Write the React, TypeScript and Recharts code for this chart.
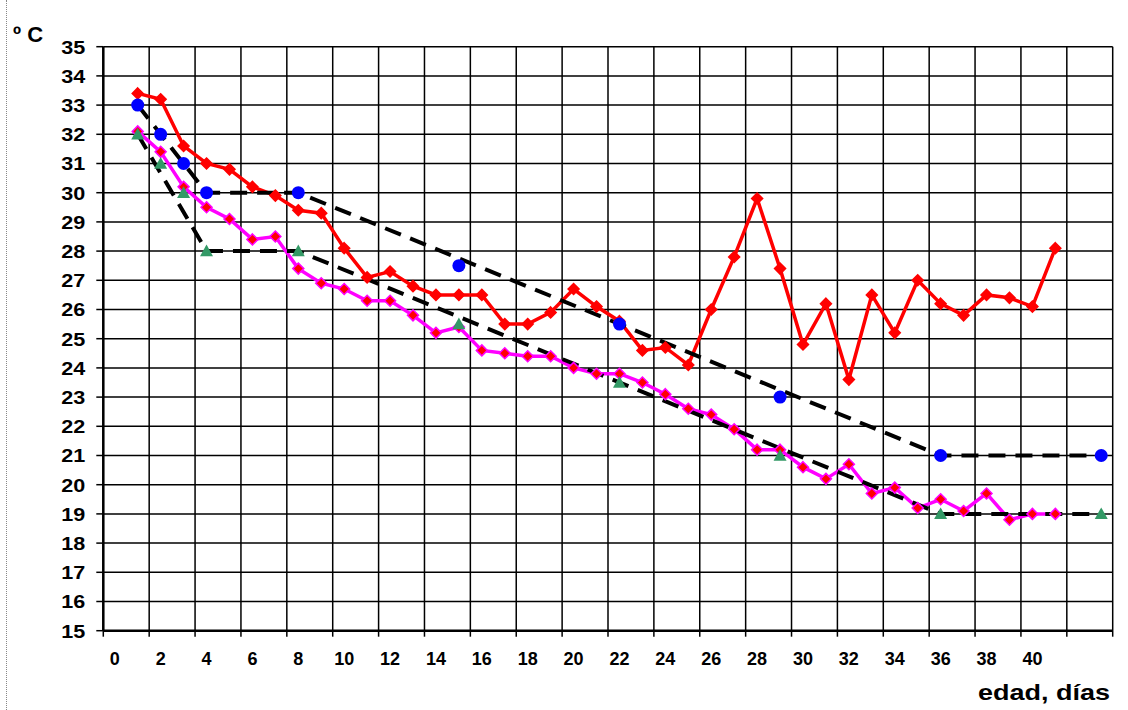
import React from "react";
import {
  ComposedChart,
  Line,
  XAxis,
  YAxis,
  CartesianGrid,
} from "recharts";

// categories: age in days
const days = [
  0, 1, 2, 3, 4, 5, 6, 7, 8, 9, 10, 11, 12, 13, 14, 15, 16, 17, 18, 19, 20, 21,
  22, 23, 24, 25, 26, 27, 28, 29, 30, 31, 32, 33, 34, 35, 36, 37, 38, 39, 40, 41,
  42, 43,
];

// measured temperatures, days 1..41
const redTemps = [
  33.4, 33.2, 31.6, 31.0, 30.8, 30.2, 29.9, 29.4, 29.3, 28.1, 27.1, 27.3, 26.8,
  26.5, 26.5, 26.5, 25.5, 25.5, 25.9, 26.7, 26.1, 25.6, 24.6, 24.7, 24.1, 26.0,
  27.8, 29.8, 27.4, 24.8, 26.2, 23.6, 26.5, 25.2, 27.0, 26.2, 25.8, 26.5, 26.4,
  26.1, 28.1,
];
const pinkTemps = [
  32.1, 31.4, 30.2, 29.5, 29.1, 28.4, 28.5, 27.4, 26.9, 26.7, 26.3, 26.3, 25.8,
  25.2, 25.4, 24.6, 24.5, 24.4, 24.4, 24.0, 23.8, 23.8, 23.5, 23.1, 22.6, 22.4,
  21.9, 21.2, 21.2, 20.6, 20.2, 20.7, 19.7, 19.9, 19.2, 19.5, 19.1, 19.7, 18.8,
  19.0, 19.0,
];

// recommended values
const refDays = [1, 2, 3, 4, 8, 15, 22, 29, 36, 43];
const blueTemps = [33, 32, 31, 30, 30, 27.5, 25.5, 23, 21, 21];
const greenTemps = [32, 31, 30, 28, 28, 25.5, 23.5, 21, 19, 19];

// dashed guide lines
const trendDays = [1, 4, 8, 36, 43];
const upperTrend = [33, 30, 30, 21, 21];
const lowerTrend = [32, 28, 28, 19, 19];

const yTicks = [
  15, 16, 17, 18, 19, 20, 21, 22, 23, 24, 25, 26, 27, 28, 29, 30, 31, 32, 33, 34,
  35,
];
// grid lines sit between days, every second day
const gridTicks = [
  -0.5, 1.5, 3.5, 5.5, 7.5, 9.5, 11.5, 13.5, 15.5, 17.5, 19.5, 21.5, 23.5, 25.5,
  27.5, 29.5, 31.5, 33.5, 35.5, 37.5, 39.5, 41.5, 43.5,
];
const lastLabel = 40;

const pick = (ds: number[], vs: number[], d: number) => {
  const i = ds.indexOf(d);
  return i >= 0 ? vs[i] : null;
};

const data = days.map((d) => ({
  day: d,
  red: d >= 1 && d <= redTemps.length ? redTemps[d - 1] : null,
  pink: d >= 1 && d <= pinkTemps.length ? pinkTemps[d - 1] : null,
  blue: pick(refDays, blueTemps, d),
  green: pick(refDays, greenTemps, d),
  upper: pick(trendDays, upperTrend, d),
  lower: pick(trendDays, lowerTrend, d),
}));

const FONT = "'Liberation Sans', Arial, sans-serif";
const HALF_DAY = 11.47; // half of one day's width on the axis

const XTick = (props: any) => {
  const { x, y, payload } = props;
  const d = payload.value + 0.5;
  if (d > lastLabel) return <g />;
  return (
    <text
      x={x + HALF_DAY}
      y={y}
      dy="0.71em"
      textAnchor="middle"
      fontSize={18}
      fontWeight="bold"
      fontFamily={FONT}
      fill="#000"
    >
      {d}
    </text>
  );
};

const YTick = (props: any) => {
  const { x, y, payload } = props;
  return (
    <text
      x={x}
      y={y}
      dy="0.36em"
      textAnchor="end"
      fontSize={19}
      fontWeight="bold"
      fontFamily={FONT}
      fill="#000"
      textLength={24}
      lengthAdjust="spacingAndGlyphs"
    >
      {payload.value}
    </text>
  );
};

const Diamond = (fill: string, stroke: string) => (props: any) => {
  const { cx, cy, index } = props;
  if (cx == null || cy == null) return <g key={`n-${index}`} />;
  const r = 5.5;
  return (
    <polygon
      key={`dm-${index}`}
      points={`${cx},${cy - r} ${cx + r},${cy} ${cx},${cy + r} ${cx - r},${cy}`}
      fill={fill}
      stroke={stroke}
      strokeWidth={1.5}
    />
  );
};

const Circle = (props: any) => {
  const { cx, cy, index } = props;
  if (cx == null || cy == null) return <g key={`n-${index}`} />;
  return <circle key={`c-${index}`} cx={cx} cy={cy} r={6.5} fill="#0000ff" />;
};

const Triangle = (props: any) => {
  const { cx, cy, index } = props;
  if (cx == null || cy == null) return <g key={`n-${index}`} />;
  const r = 6.5;
  return (
    <polygon
      key={`t-${index}`}
      points={`${cx},${cy - r} ${cx + r},${cy + r * 0.8} ${cx - r},${cy + r * 0.8}`}
      fill="#339966"
    />
  );
};

export default function App() {
  return (
    <div
      style={{
        position: "absolute",
        left: 0,
        top: 0,
        width: 1128,
        height: 710,
        background: "#fff",
        fontFamily: FONT,
      }}
    >
      <div
        style={{
          position: "absolute",
          left: 6,
          top: 0,
          height: 710,
          borderLeft: "1px dotted #888",
        }}
      />
      <ComposedChart
        width={1128}
        height={710}
        data={data}
        margin={{ top: 46.7, right: 15.3, bottom: 49.3, left: 0 }}
      >
        <CartesianGrid stroke="#000" strokeWidth={1.5} />
        <XAxis
          dataKey="day"
          type="number"
          domain={[-0.5, 43.5]}
          ticks={gridTicks}
          interval={0}
          tick={<XTick />}
          tickSize={6}
          tickMargin={16}
          height={30}
          axisLine={{ stroke: "#000", strokeWidth: 2.5 }}
          tickLine={{ stroke: "#000", strokeWidth: 1.5 }}
          allowDataOverflow
        />
        <YAxis
          type="number"
          domain={[15, 35]}
          ticks={yTicks}
          interval={0}
          width={103.3}
          tickSize={7}
          tickMargin={11}
          tick={<YTick />}
          axisLine={{ stroke: "#000", strokeWidth: 2.5 }}
          tickLine={{ stroke: "#000", strokeWidth: 1.5 }}
        />
        <Line
          dataKey="red"
          stroke="#ff0000"
          strokeWidth={3.5}
          dot={Diamond("#ff0000", "#ff0000")}
          isAnimationActive={false}
        />
        <Line
          dataKey="pink"
          stroke="#ff00ff"
          strokeWidth={3.5}
          dot={Diamond("#ff0000", "#ff00ff")}
          isAnimationActive={false}
        />
        <Line
          dataKey="upper"
          stroke="#000"
          strokeWidth={4}
          strokeDasharray="17 10"
          connectNulls
          dot={false}
          isAnimationActive={false}
        />
        <Line
          dataKey="lower"
          stroke="#000"
          strokeWidth={4}
          strokeDasharray="17 10"
          connectNulls
          dot={false}
          isAnimationActive={false}
        />
        <Line
          dataKey="blue"
          stroke="none"
          dot={Circle}
          isAnimationActive={false}
        />
        <Line
          dataKey="green"
          stroke="none"
          dot={Triangle}
          isAnimationActive={false}
        />
        <text x={13} y={42} fontSize={22} fontWeight="bold" fill="#000">
          º C
        </text>
        <text
          x={1110}
          y={700}
          textAnchor="end"
          fontSize={22}
          fontWeight="bold"
          fill="#000"
          textLength={132}
          lengthAdjust="spacingAndGlyphs"
        >
          edad, días
        </text>
      </ComposedChart>
    </div>
  );
}
